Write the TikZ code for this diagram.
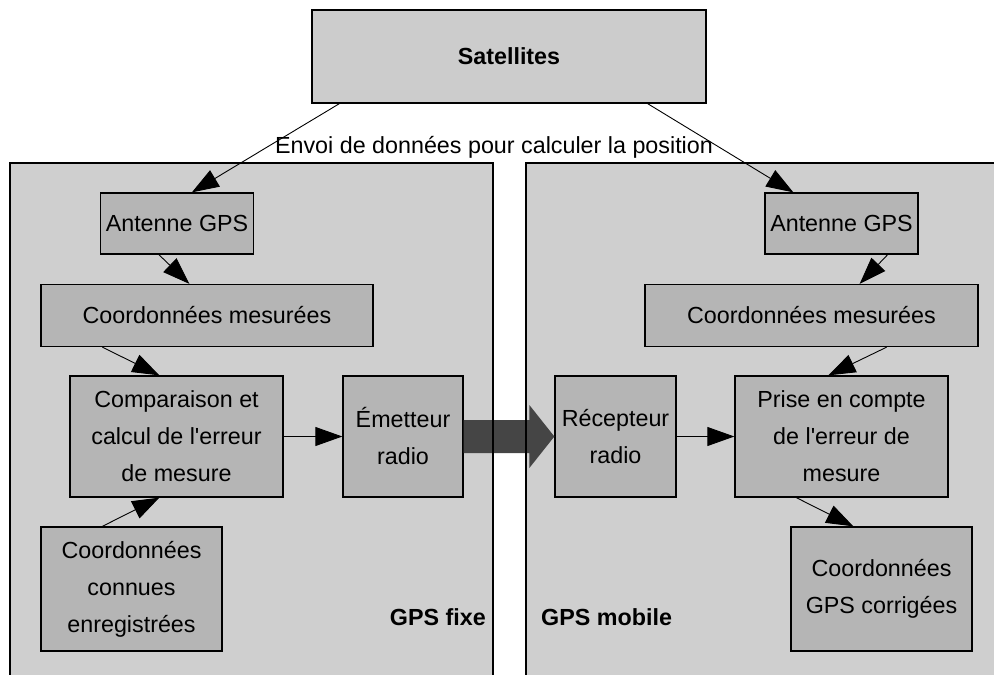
\documentclass[tikz,border=0pt]{standalone}
\usepackage{fontspec}
\setmainfont{Liberation Sans}[Ligatures=TeXOff]
\usetikzlibrary{arrows.meta}
\definecolor{panelgray}{gray}{0.81}
\definecolor{boxgray}{gray}{0.71}
\definecolor{satgray}{gray}{0.80}
\definecolor{arrowgray}{gray}{0.27}
\tikzset{
  box/.style={draw, line width=1.3pt, fill=boxgray, align=center, inner sep=2pt},
  panel/.style={draw, line width=1.3pt},
  flow/.style={line width=0.9pt, -{Triangle[length=27pt,width=19pt]}},
}
\begin{document}
\begin{tikzpicture}[x=1pt, y=-1pt, font=\fontsize{23.3}{37}\selectfont]
\useasboundingbox (0,0) rectangle (994,675);
\clip (0,0) rectangle (994,675);
\fill[panelgray] (10,163) rectangle (493,700);
\fill[panelgray] (526,163) rectangle (1000,700);
\node[box, fill=satgray, minimum width=394pt, minimum height=93pt, font=\fontsize{23.3}{37}\selectfont\bfseries] (sat) at (509,56.5) {Satellites};
\node (envoi) at (494,147) {Envoi de données pour calculer la position};
%
% GPS fixe
\node[box, minimum width=153pt, minimum height=61pt] (antL) at (177,223.5) {Antenne GPS};
\node[box, minimum width=332pt, minimum height=62pt] (mesL) at (207,315.5) {Coordonnées mesurées};
\node[box, minimum width=213pt, minimum height=121pt] (comp) at (176.5,436.5) {Comparaison et\\calcul de l'erreur\\de mesure};
\node[box, minimum width=120pt, minimum height=121pt] (emet) at (403,436.5) {Émetteur\\radio};
\node[box, minimum width=181pt, minimum height=124pt] (connues) at (131.5,589) {Coordonnées\\connues\\enregistrées};
\node[anchor=east, inner sep=0pt, font=\fontsize{23.3}{37}\selectfont\bfseries] (fixe) at (486,617) {GPS fixe};
%
% GPS mobile
\node[box, minimum width=153pt, minimum height=61pt] (antR) at (841.5,223.5) {Antenne GPS};
\node[box, minimum width=333pt, minimum height=62pt] (mesR) at (811.5,315.5) {Coordonnées mesurées};
\node[box, minimum width=121pt, minimum height=121pt] (recep) at (615.5,436.5) {Récepteur\\radio};
\node[box, minimum width=213pt, minimum height=121pt] (prise) at (841.5,436.5) {Prise en compte\\de l'erreur de\\mesure};
\node[box, minimum width=181pt, minimum height=124pt] (corr) at (881.5,589) {Coordonnées\\GPS corrigées};
\node[anchor=west, inner sep=0pt, font=\fontsize{23.3}{37}\selectfont\bfseries] (mobile) at (541,617) {GPS mobile};
%
\draw[flow] ([xshift=28pt]sat.south west) -- ([xshift=92pt]antL.north west);
\draw[flow] ([xshift=-59pt]sat.south east) -- ([xshift=29pt]antR.north west);
\draw[flow] ([xshift=59pt]antL.south west) -- ([xshift=149pt]mesL.north west);
\draw[flow] ([xshift=-31pt]antR.south east) -- ([xshift=-119pt]mesR.north east);
\draw[flow] ([xshift=62pt]mesL.south west) -- ([xshift=90pt]comp.north west);
\draw[flow] ([xshift=62pt]connues.north west) -- ([xshift=90pt]comp.south west);
\draw[flow] (comp.east) -- (emet.west);
\draw[flow] ([xshift=-92pt]mesR.south east) -- ([xshift=94pt]prise.north west);
\draw[flow] (recep.east) -- (prise.west);
\draw[flow] ([xshift=62pt]prise.south west) -- ([xshift=63pt]corr.north west);
%
\fill[arrowgray] ([yshift=16.5pt]emet.east) -- ([xshift=-25pt,yshift=16.5pt]recep.west)
  -- ([xshift=-25pt,yshift=31.5pt]recep.west) -- (recep.west)
  -- ([xshift=-25pt,yshift=-31.5pt]recep.west) -- ([xshift=-25pt,yshift=-16.5pt]recep.west)
  -- ([yshift=-16.5pt]emet.east) -- cycle;
\draw[panel] (10,163) rectangle (493,700);
\draw[panel] (526,163) rectangle (1000,700);
\end{tikzpicture}
\end{document}
